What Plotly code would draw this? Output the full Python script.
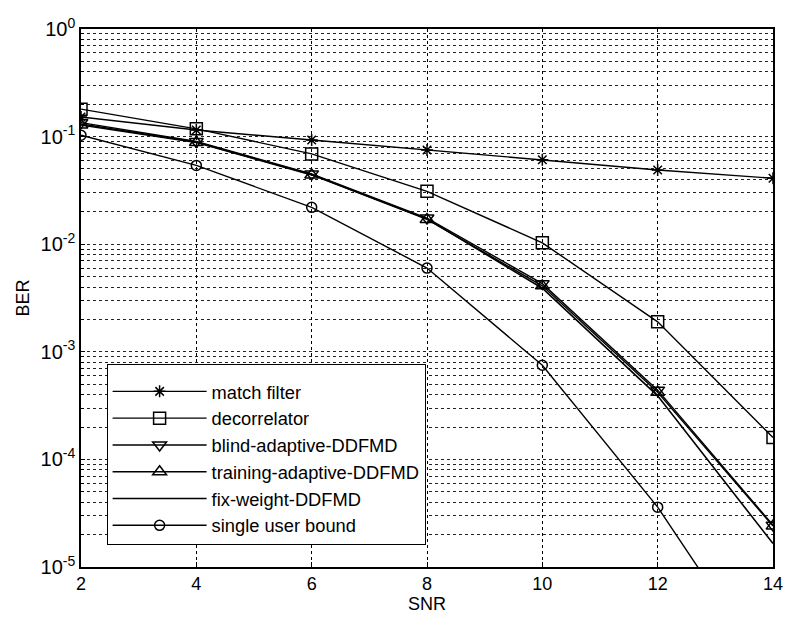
import plotly.graph_objects as go

snr = [2, 4, 6, 8, 10, 12, 14]

match_filter = [0.152, 0.115, 0.093, 0.075, 0.061, 0.049, 0.041]
decorrelator = [0.180, 0.118, 0.069, 0.031, 0.0103, 0.0019, 1.6e-4]
blind_adaptive = [0.135, 0.090, 0.045, 0.0175, 0.0043, 4.4e-4, 2.45e-5]
training_adaptive = [0.128, 0.088, 0.044, 0.0170, 0.0041, 4.2e-4, 2.4e-5]
fix_weight = [0.131, 0.089, 0.0445, 0.0172, 0.0039, 3.9e-4, 1.65e-5]
single_user = [0.103, 0.054, 0.022, 0.0060, 7.5e-4, 3.6e-5, 9e-7]

decade_exps = [0, -1, -2, -3, -4, -5]
x_tickvals = [2, 4, 6, 8, 10, 12, 14]

y_tickvals = [10.0 ** e for e in decade_exps]
y_ticktext = [f"10<sup>{e}</sup>" for e in decade_exps]
y_minorvals = [m * 10.0 ** e for e in decade_exps[1:] for m in range(2, 10)]

series = [
    ("match filter", match_filter, "asterisk-open", 10),
    ("decorrelator", decorrelator, "square-open", 12),
    ("blind-adaptive-DDFMD", blind_adaptive, "triangle-down-open", 12),
    ("training-adaptive-DDFMD", training_adaptive, "triangle-up-open", 12),
    ("fix-weight-DDFMD", fix_weight, None, 0),
    ("single user bound", single_user, "circle-open", 10),
]

fig = go.Figure()
for i, (name, vals, sym, sz) in enumerate(series):
    if sym is None:
        fig.add_trace(go.Scatter(x=snr, y=vals, mode="lines", name=name,
                                 line=dict(color="black", width=1.6)))
    else:
        fig.add_trace(go.Scatter(x=snr, y=vals, mode="lines+markers", name=name,
                                 line=dict(color="black", width=1.4),
                                 marker=dict(symbol=sym, size=sz, color="black",
                                             line=dict(color="black", width=1.5))))

fam = "Liberation Sans, Arial, sans-serif"
fnt = dict(family=fam, size=18, color="black")

fig.update_layout(
    width=795, height=623,
    margin=dict(l=81, r=12, t=29, b=56),
    paper_bgcolor="white", plot_bgcolor="white",
    font=fnt,
    showlegend=True,
    legend=dict(x=0.037, y=0.377, xanchor="left", yanchor="top",
                bgcolor="white", bordercolor="black", borderwidth=1,
                font=dict(family=fam, size=18.3, color="black"),
                title=dict(text=" ", font=dict(size=6)),
                traceorder="normal", itemwidth=94),
    xaxis=dict(range=[2, 14], tickvals=x_tickvals, showgrid=True,
               gridcolor="black", griddash="dot", gridwidth=1,
               showline=True, linecolor="black", linewidth=1.5, mirror=True,
               ticks="inside", ticklen=5, tickcolor="black",
               tickfont=dict(family=fam, size=18, color="black"),
               title=dict(text="SNR", standoff=2, font=dict(family=fam, size=18)),
               zeroline=False),
    yaxis=dict(type="log", range=[-5, 0], tickmode="array",
               tickvals=y_tickvals, ticktext=y_ticktext,
               showgrid=True, gridcolor="#222", griddash="dot", gridwidth=1,
               minor=dict(tickvals=y_minorvals, showgrid=True, gridcolor="#222",
                          griddash="dot", gridwidth=1, ticks="inside", ticklen=3,
                          tickcolor="black"),
               showline=True, linecolor="black", linewidth=1.5, mirror=True,
               ticks="inside", ticklen=4, tickcolor="black",
               tickfont=dict(family=fam, size=20, color="black"),
               title=dict(text="BER", standoff=6, font=dict(family=fam, size=18)),
               zeroline=False),
)

fig.write_html("out.html")
